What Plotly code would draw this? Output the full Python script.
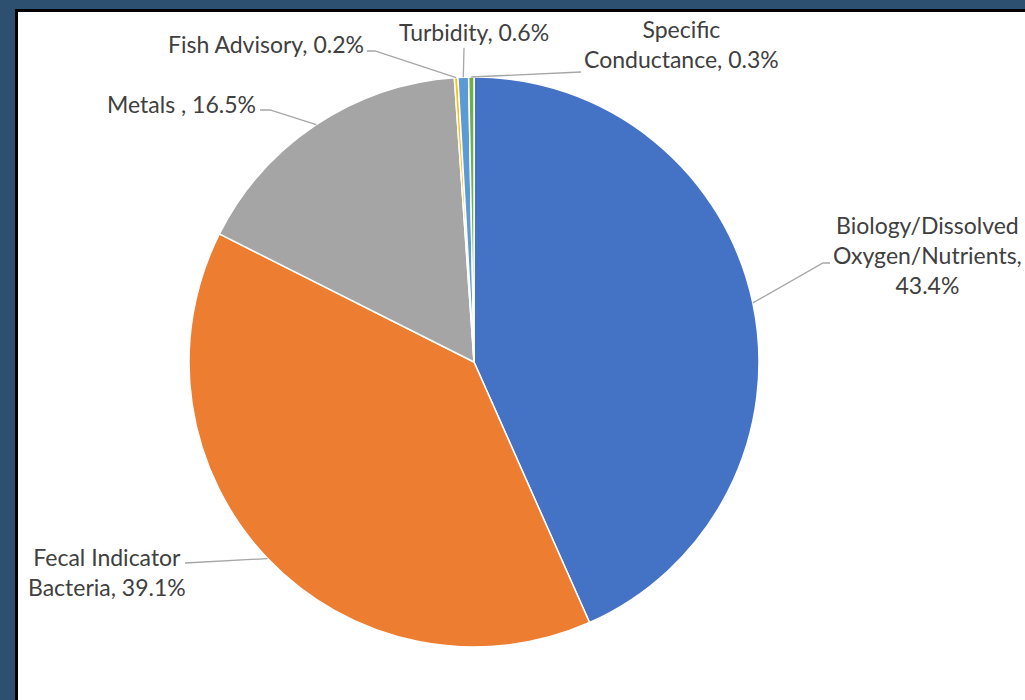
import numpy as np
import plotly.graph_objects as go

# ---- data ----
categories = ["Biology/Dissolved Oxygen/Nutrients", "Fecal Indicator Bacteria", "Metals ",
              "Fish Advisory", "Turbidity", "Specific Conductance"]
values = [43.4, 39.1, 16.5, 0.2, 0.6, 0.3]
label_lines = ["Biology/Dissolved<br>Oxygen/Nutrients,<br>", "Fecal Indicator<br>Bacteria, ",
               "Metals , ", "Fish Advisory, ", "Turbidity, ", "Specific<br>Conductance, "]
colors = ["#4472C4", "#ED7D31", "#A5A5A5", "#FFC000", "#5B9BD5", "#70AD47"]

# ---- layout (pixels) ----
W, H = 1025, 700
CX, CY, R = 474, 362, 285
FONT = "Lato"
FSIZE = 23
TXT = "#404040"
# label anchor positions (x, y, xanchor) and leader-line start points
label_pos = [(927, 255, "center"), (107, 572, "center"), (258, 104, "right"),
             (366, 44, "right"), (474, 32, "center"), (681, 44, "center")]
leader_start = [[(830, 263), (823, 263)], [(185, 563)], [(260, 110), (270, 110)],
                [(367, 51), (375, 51)], [(464, 48)], [(581, 72)]]

fig = go.Figure()
fig.add_trace(go.Pie(
    labels=categories, values=values, sort=False, direction="clockwise", rotation=0,
    marker=dict(colors=colors, line=dict(color="white", width=1.5)),
    textinfo="none", hoverinfo="label+percent", showlegend=False,
    domain=dict(x=[(CX - R) / W, (CX + R) / W], y=[(H - CY - R) / H, (H - CY + R) / H]),
))

# invisible pixel axis for leader lines
fig.add_trace(go.Scatter(x=[0, W], y=[0, H], mode="markers", marker=dict(opacity=0),
                         hoverinfo="skip", showlegend=False))

total = sum(values)
cum = np.cumsum([0] + values[:-1])
shapes = [
    dict(type="rect", xref="x", yref="y", x0=15, y0=9, x1=W + 10, y1=H + 10,
         fillcolor="black", line=dict(width=0), layer="below"),
    dict(type="rect", xref="x", yref="y", x0=18, y0=12, x1=W + 10, y1=H + 10,
         fillcolor="white", line=dict(width=0), layer="below"),
]
annotations = []
for i, v in enumerate(values):
    ang = 2 * np.pi * (cum[i] + v / 2) / total
    ax = CX + R * np.sin(ang)
    ay = CY - R * np.cos(ang)
    pts = leader_start[i] + [(ax, ay)]
    path = "M " + " L ".join(f"{px:.1f},{py:.1f}" for px, py in pts)
    shapes.append(dict(type="path", xref="x", yref="y", path=path,
                       line=dict(color="#A6A6A6", width=1.3)))
    lx, ly, xa = label_pos[i]
    annotations.append(dict(x=lx, y=ly, xref="x", yref="y", xanchor=xa, yanchor="middle",
                            text=f"{label_lines[i]}{v}%", showarrow=False, align="center",
                            font=dict(family=FONT, size=FSIZE, color=TXT)))

fig.update_layout(
    width=W, height=H, margin=dict(l=0, r=0, t=0, b=0),
    paper_bgcolor="#2D5070", plot_bgcolor="rgba(0,0,0,0)",
    xaxis=dict(range=[0, W], visible=False, fixedrange=True),
    yaxis=dict(range=[H, 0], visible=False, fixedrange=True),
    shapes=shapes, annotations=annotations,
)
fig.write_html("out.html", config={"displayModeBar": False},
               post_script="document.body.style.margin='0';document.body.style.overflow='hidden';")
